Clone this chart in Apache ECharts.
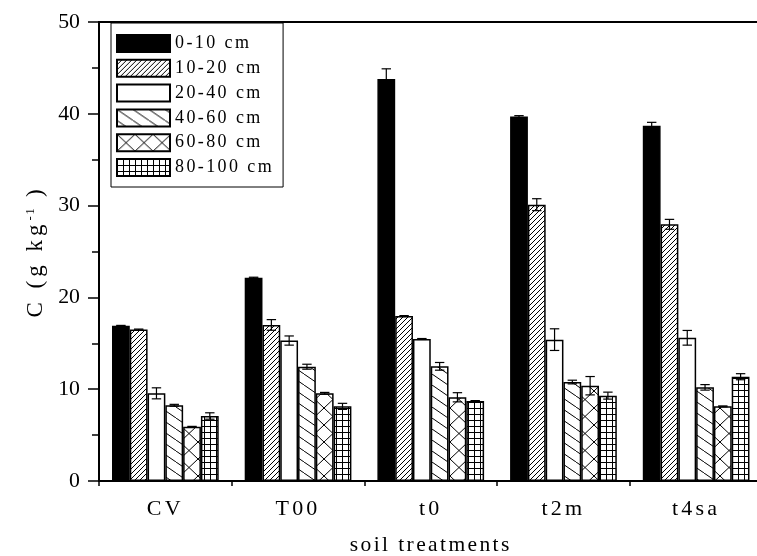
<!DOCTYPE html>
<html>
<head>
<meta charset="utf-8">
<script src="https://cdn.jsdelivr.net/npm/echarts@6/dist/echarts.min.js"></script>
<style>
  html, body { margin: 0; padding: 0; background: #fff; }
  #chart { width: 757px; height: 556px; }
</style>
</head>
<body>
<div id="chart"></div>
<script>
// Soil treatments along the x axis
const categories = ['CV', 'T00', 't0', 't2m', 't4sa'];
// Depth layers (one bar series each)
const depths = ['0-10 cm', '10-20 cm', '20-40 cm', '40-60 cm', '60-80 cm', '80-100 cm'];

// Mean C content (g kg-1) per depth layer, one value per treatment
const c0_10   = [16.9, 22.15, 43.8, 39.7, 38.7];
const c10_20  = [16.5, 17.0, 17.97, 30.1, 27.96];
const c20_40  = [9.55, 15.3, 15.47, 15.4, 15.6];
const c40_60  = [8.25, 12.45, 12.49, 10.78, 10.2];
const c60_80  = [5.9, 9.55, 9.12, 10.38, 8.13];
const c80_100 = [7.08, 8.13, 8.71, 9.3, 11.36];

// Error (half-range) for each mean
const e0_10   = [0.05, 0.05, 1.1, 0.1, 0.37];
const e10_20  = [0.05, 0.58, 0.05, 0.65, 0.54];
const e20_40  = [0.6, 0.5, 0.05, 1.18, 0.8];
const e40_60  = [0.1, 0.27, 0.42, 0.2, 0.3];
const e60_80  = [0.05, 0.1, 0.5, 1.0, 0.05];
const e80_100 = [0.35, 0.33, 0.05, 0.38, 0.33];

// Y axis ticks
const yMin = 0, yMax = 50, yStep = 10;

const means = [c0_10, c10_20, c20_40, c40_60, c60_80, c80_100];
const errors = [e0_10, e10_20, e20_40, e40_60, e60_80, e80_100];

const FONT = '"Liberation Serif", "Times New Roman", serif';
const BAR_FRACTION = 0.134; // bar width as a fraction of the category band

// Wide tracking for the serif labels, keyed by font size (px).
// The single-glyph probe zrender uses for line height is left untracked.
(function () {
  const P = CanvasRenderingContext2D.prototype;
  if (!('letterSpacing' in P)) return;
  const track = { 18: '2.4px', 22: '3.2px', 23: '4px', 21.5: '2.4px', 13: '1.5px' };
  function apply(ctx, text) {
    if (typeof text === 'string' && text.length < 2) { ctx.letterSpacing = '0px'; return; }
    const m = /([\d.]+)px/.exec(ctx.font);
    ctx.letterSpacing = (m && track[parseFloat(m[1])]) || '0px';
  }
  ['fillText', 'strokeText', 'measureText'].forEach(function (fn) {
    const orig = P[fn];
    P[fn] = function (text) { apply(this, text); return orig.apply(this, arguments); };
  });
})();

// --- fill patterns -------------------------------------------------------
function makeTile(w, h, draw) {
  const c = document.createElement('canvas');
  c.width = w; c.height = h;
  const ctx = c.getContext('2d');
  ctx.fillStyle = '#fff';
  ctx.fillRect(0, 0, w, h);
  ctx.strokeStyle = '#000';
  ctx.lineWidth = 1;
  draw(ctx, w, h);
  return c;
}
function line(ctx, x1, y1, x2, y2) {
  ctx.beginPath(); ctx.moveTo(x1, y1); ctx.lineTo(x2, y2); ctx.stroke();
}
const tileSlash = makeTile(5, 5, (ctx, w, h) => {
  line(ctx, -w, 2 * h, 2 * w, -h);
});
const tileBack = makeTile(16, 11, (ctx, w, h) => {
  line(ctx, -w, -h, 2 * w, 2 * h);
});
const tileCross = makeTile(18, 17, (ctx, w, h) => {
  line(ctx, -w, -h, 2 * w, 2 * h);
  line(ctx, -w, 2 * h, 2 * w, -h);
});
const tileGrid = makeTile(6, 6, (ctx, w, h) => {
  line(ctx, 0.5, 0, 0.5, h);
  line(ctx, 0, 0.5, w, 0.5);
});
const pat = (img) => ({ image: img, repeat: 'repeat' });

const fills = ['#000', pat(tileSlash), '#fff', pat(tileBack), pat(tileCross), pat(tileGrid)];

// --- series --------------------------------------------------------------
const series = [];
depths.forEach((name, i) => {
  series.push({
    name: name,
    type: 'bar',
    data: means[i],
    barWidth: (BAR_FRACTION * 100) + '%',
    barGap: '0%',
    itemStyle: { color: fills[i], borderColor: '#000', borderWidth: 1.5 },
    emphasis: { disabled: true },
    z: 2
  });
});
depths.forEach((name, i) => {
  series.push({
    type: 'custom',
    name: name + ' err',
    z: 5,
    silent: true,
    data: means[i].map((v, k) => [k, v, errors[i][k]]),
    renderItem: function (params, api) {
      const cat = api.value(0), v = api.value(1), e = api.value(2);
      const band = api.size([1, 0])[0];
      const bw = band * BAR_FRACTION;
      const dx = (i - (depths.length - 1) / 2) * bw;
      const hi = api.coord([cat, v + e]);
      const lo = api.coord([cat, v - e]);
      const x = hi[0] + dx;
      const cap = 4.7;
      const st = { stroke: '#000', lineWidth: 1.2, fill: null };
      return {
        type: 'group',
        children: [
          { type: 'line', shape: { x1: x, y1: hi[1], x2: x, y2: lo[1] }, style: st },
          { type: 'line', shape: { x1: x - cap, y1: hi[1], x2: x + cap, y2: hi[1] }, style: st },
          { type: 'line', shape: { x1: x - cap, y1: lo[1], x2: x + cap, y2: lo[1] }, style: st }
        ]
      };
    }
  });
});

const chart = echarts.init(document.getElementById('chart'), null, { renderer: 'canvas' });
chart.setOption({
  animation: false,
  backgroundColor: '#fff',
  grid: {
    left: 99, top: 22, right: -5.5, bottom: 75,
    containLabel: false,
    outerBoundsMode: 'none',
    show: true, borderColor: '#000', borderWidth: 2, backgroundColor: 'transparent'
  },
  legend: {
    data: depths,
    orient: 'vertical',
    left: 111, top: 23,
    icon: 'rect',
    itemWidth: 53, itemHeight: 17, itemGap: 5.8,
    padding: [11, 9, 10, 5],
    borderColor: '#000', borderWidth: 1,
    backgroundColor: '#fff',
    textStyle: { fontFamily: FONT, fontSize: 18, color: '#000' },
    selectedMode: false
  },
  xAxis: [
    {
      type: 'category',
      data: categories,
      axisLine: { lineStyle: { color: '#000', width: 2 } },
      axisTick: { alignWithLabel: true, length: 10, lineStyle: { color: '#000', width: 1.5 } },
      axisLabel: { margin: 17, fontFamily: FONT, fontSize: 22, color: '#000' },
      name: 'soil treatments',
      nameLocation: 'middle',
      nameGap: 53,
      nameTextStyle: { fontFamily: FONT, fontSize: 21.5, color: '#000' },
      z: 3
    },
    {
      // boundary ticks between treatment groups
      type: 'value',
      min: 0, max: categories.length, interval: 1,
      position: 'bottom',
      axisLine: { show: false },
      axisTick: { show: true, length: 5, lineStyle: { color: '#000', width: 1.5 } },
      axisLabel: { show: false },
      splitLine: { show: false }
    }
  ],
  yAxis: {
    type: 'value',
    min: yMin, max: yMax, interval: yStep,
    axisLine: { show: true, lineStyle: { color: '#000', width: 2 } },
    axisTick: { show: true, length: 11, lineStyle: { color: '#000', width: 1.5 } },
    minorTick: { show: true, splitNumber: 2, length: 7, lineStyle: { color: '#000', width: 1.5 } },
    splitLine: { show: false },
    axisLabel: { margin: 19, fontFamily: FONT, fontSize: 21.8, color: '#000' },
    name: 'C (g kg{sup|-1} )',
    nameLocation: 'middle',
    nameGap: 52,
    nameRotate: 90,
    nameTextStyle: {
      fontFamily: FONT, fontSize: 23, color: '#000',
      rich: { sup: { fontFamily: FONT, fontSize: 13, color: '#000', verticalAlign: 'top', padding: [0, 0, 10, 0] } }
    },
    z: 3
  },
  series: series
});
</script>
</body>
</html>
